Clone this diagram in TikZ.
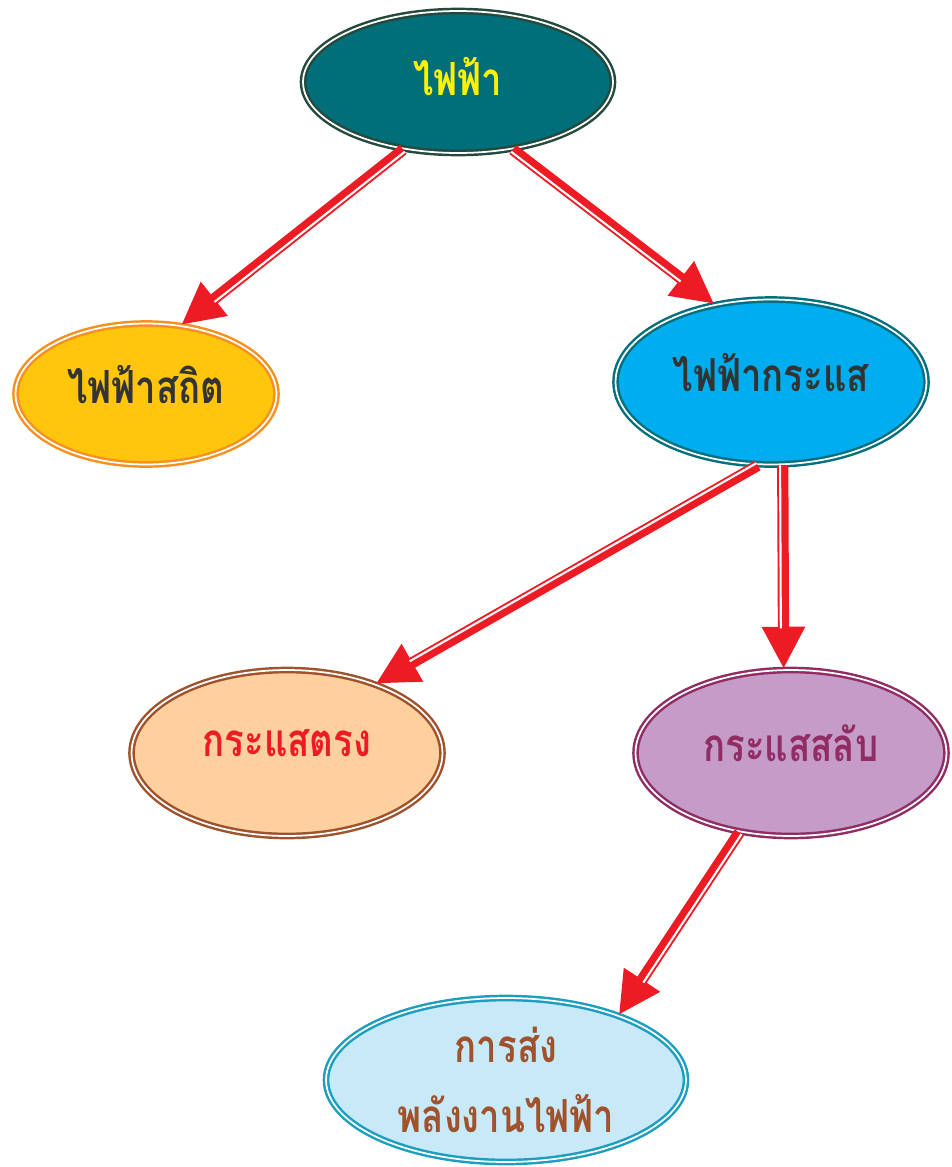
\documentclass[tikz,border=0pt]{standalone}
\usepackage{fontspec}
\newfontfamily\thaifont[Script=Thai,FakeStretch=0.8]{Loma}
\usetikzlibrary{shapes.geometric,arrows.meta,calc}
\definecolor{arrowred}{HTML}{ED1C24}
\definecolor{tealfill}{HTML}{006F7A}
\definecolor{tealline}{HTML}{234A3C}
\definecolor{sunfill}{HTML}{FFC60B}
\definecolor{sunline}{HTML}{F7901E}
\definecolor{skyfill}{HTML}{00ADEE}
\definecolor{skyline}{HTML}{00707F}
\definecolor{peachfill}{HTML}{FDD09E}
\definecolor{brownline}{HTML}{A0522D}
\definecolor{plumfill}{HTML}{C59CC7}
\definecolor{plumline}{HTML}{912C64}
\definecolor{icefill}{HTML}{C7E9F8}
\definecolor{iceline}{HTML}{1B9EC0}
\definecolor{darktext}{HTML}{333333}
\definecolor{yellowtext}{HTML}{FFF200}
\begin{document}
\begin{tikzpicture}[x=0.02cm,y=-0.02cm,
  bubble/.style={ellipse,draw,double=white,line width=1.4pt,
    double distance=1.0pt,inner sep=0pt,align=center,
    font=\thaifont\bfseries\fontsize{26}{40}\selectfont},
  lift/.style={text depth=11pt},
  flow/.style={draw=arrowred,line width=6.4pt,
    -{Triangle[length=24pt,width=23pt]}},
  stripe/.style={draw=white,line width=1.2pt,shorten >=23pt}]
\useasboundingbox (0,0) rectangle (952,1167);
% nodes
\node[bubble,fill=tealfill,draw=tealline,text=yellowtext,text depth=6pt,
  minimum width=6.2cm,minimum height=2.84cm] (top) at (458,82) {ไฟฟ้า};
\node[bubble,lift,fill=sunfill,draw=sunline,text=darktext,
  minimum width=5.22cm,minimum height=2.82cm] (static) at (146,394) {ไฟฟ้าสถิต};
\node[bubble,lift,fill=skyfill,draw=skyline,text=darktext,
  minimum width=6.22cm,minimum height=3.3cm] (current) at (771,382) {ไฟฟ้ากระแส};
\node[bubble,lift,fill=peachfill,draw=brownline,text=arrowred,
  minimum width=6.22cm,minimum height=3.32cm] (direct) at (287,753) {กระแสตรง};
\node[bubble,lift,fill=plumfill,draw=plumline,text=plumline,
  minimum width=6.22cm,minimum height=3.32cm] (alt) at (791,753) {กระแสสลับ};
\node[bubble,fill=icefill,draw=iceline,text=brownline,
  minimum width=7.2cm,minimum height=3.28cm] (power) at (506,1080) {การส่ง\\พลังงานไฟฟ้า};
% arrows
\draw[flow] (top.231) -- (static.63);
\draw[stripe] ($(top.231)!1.5pt!90:(static.63)$) -- ($(static.63)!1.5pt!-90:(top.231)$);
\draw[flow] (top.309) -- (current.126);
\draw[stripe] ($(top.309)!1.5pt!-90:(current.126)$) -- ($(current.126)!1.5pt!90:(top.309)$);
\draw[flow] (current.261) -- (direct.38);
\draw[stripe] ($(current.261)!1.5pt!-90:(direct.38)$) -- ($(direct.38)!1.5pt!90:(current.261)$);
\draw[flow] (current.278) -- (alt.95);
\draw[stripe] ($(current.278)!1.5pt!-90:(alt.95)$) -- ($(alt.95)!1.5pt!90:(current.278)$);
\draw[flow] (alt.237) -- (power.30);
\draw[stripe] ($(alt.237)!1.5pt!90:(power.30)$) -- ($(power.30)!1.5pt!-90:(alt.237)$);
\end{tikzpicture}
\end{document}
